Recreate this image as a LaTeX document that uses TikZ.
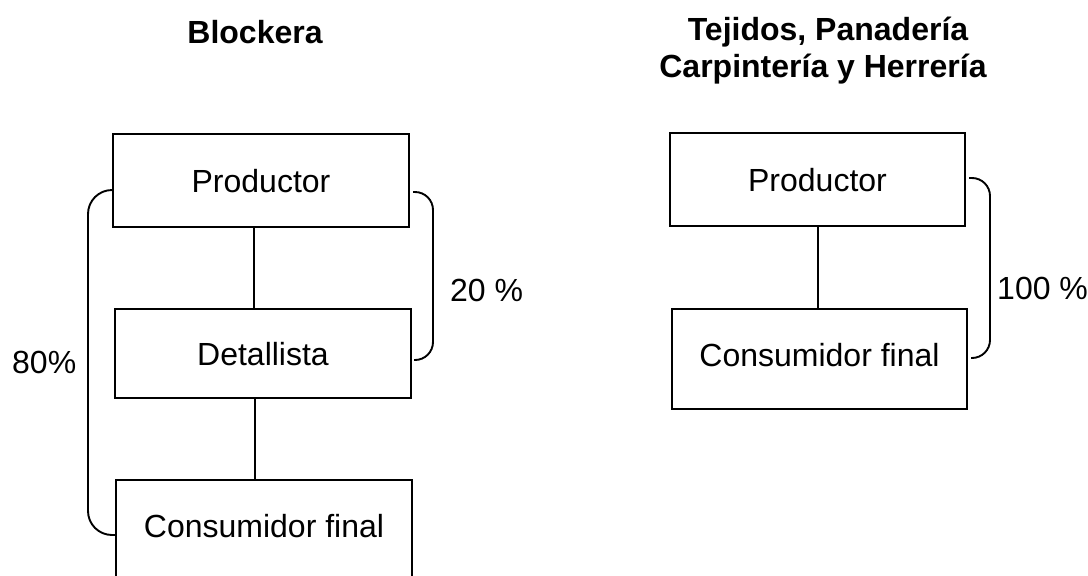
\documentclass[tikz,border=0pt]{standalone}
\usepackage{fontspec}
\setmainfont{Liberation Sans}
\usetikzlibrary{calc}
\begin{document}
\begin{tikzpicture}[x=1pt,y=-1pt,
  box/.style={draw, line width=2pt, inner sep=0pt, text height=23pt, text depth=0pt,
    font=\fontsize{32pt}{38pt}\selectfont},
  lowtext/.style={text depth=8pt},
  conn/.style={line width=1.9pt},
  lbl/.style={font=\fontsize{32pt}{38pt}\selectfont, inner sep=0pt},
  ttl/.style={font=\fontsize{32pt}{38pt}\selectfont\bfseries, inner sep=0pt}]
\useasboundingbox (0,0) rectangle (1088,576);
\clip (0,0) rectangle (1088,576);
\fill[white] (0,0) rectangle (1088,576);

% titles
\node[ttl, anchor=base] (t1) at (255,43) {Blockera};
\node[ttl, anchor=base] (t2a) at (828,40) {Tejidos, Panadería};
\node[ttl, anchor=base] (t2b) at (823,77) {Carpintería y Herrería};

% left chain
\node[box, minimum width=296pt, minimum height=93pt] (lp) at (261,180.5) {Productor};
\node[box, minimum width=296pt, minimum height=89pt] (ld) at (263,353.5) {Detallista};
\node[box, lowtext, minimum width=296pt, minimum height=100pt] (lc) at (264,530) {Consumidor final};

% right chain
\node[box, minimum width=295pt, minimum height=93pt] (rp) at (817.5,179.5) {Productor};
\node[box, lowtext, minimum width=295pt, minimum height=100pt] (rc) at (819.5,359) {Consumidor final};

% connectors
\draw[conn] (lp.south -| 254,0) -- (ld.north -| 254,0);
\draw[conn] (ld.south -| 255,0) -- (lc.north -| 255,0);
\draw[conn] (rp.south -| 818,0) -- (rc.north -| 818,0);

% brackets
\draw[conn, rounded corners=24pt] (lp.west |- 0,190) -- (88,190) -- (88,535) -- (lc.west |- 0,535);
\draw[conn, rounded corners=18pt] ($(lp.east |- 0,192)+(3,0)$) -- (433,192) -- (433,360) -- ($(ld.east |- 0,360)+(2,0)$);
\draw[conn, rounded corners=18pt] ($(rp.east |- 0,178)+(3,0)$) -- (990,178) -- (990,358) -- ($(rc.east |- 0,358)+(3,0)$);

% labels
\node[lbl, anchor=west] (p80) at (12,362) {80\%};
\node[lbl, anchor=west] (p20) at (450,290) {20 \%};
\node[lbl, anchor=west] (p100) at (997,288) {100 \%};
\end{tikzpicture}
\end{document}
